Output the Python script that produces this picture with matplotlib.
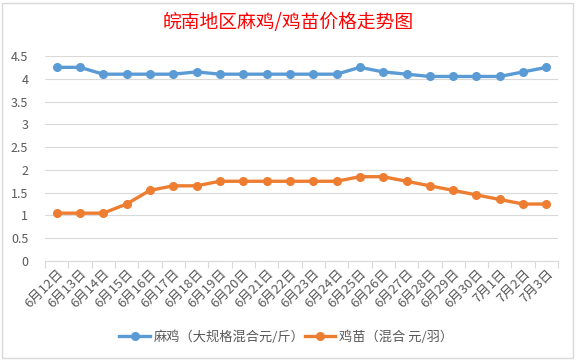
# -*- coding: utf-8 -*-
import matplotlib
matplotlib.use('Agg')
import matplotlib.pyplot as plt
from matplotlib.patches import Rectangle

plt.rcParams['font.family'] = ['Noto Sans CJK SC', 'DejaVu Sans']

# 数据
dates = ['6月12日', '6月13日', '6月14日', '6月15日', '6月16日', '6月17日', '6月18日',
         '6月19日', '6月20日', '6月21日', '6月22日', '6月23日', '6月24日', '6月25日',
         '6月26日', '6月27日', '6月28日', '6月29日', '6月30日', '7月1日', '7月2日', '7月3日']
maji = [4.25, 4.25, 4.1, 4.1, 4.1, 4.1, 4.15, 4.1, 4.1, 4.1, 4.1, 4.1, 4.1, 4.25,
        4.15, 4.1, 4.05, 4.05, 4.05, 4.05, 4.15, 4.25]
jimiao = [1.05, 1.05, 1.05, 1.25, 1.55, 1.65, 1.65, 1.75, 1.75, 1.75, 1.75, 1.75, 1.75, 1.85,
          1.85, 1.75, 1.65, 1.55, 1.45, 1.35, 1.25, 1.25]
label_maji = '麻鸡（大规格混合元/斤）'
label_jimiao = '鸡苗（混合 元/羽）'
title = '皖南地区麻鸡/鸡苗价格走势图'

fig = plt.figure(figsize=(5.76, 3.61), dpi=100)
ax = fig.add_axes([0.078, 0.277, 0.891, 0.568])

x = range(len(dates))
ax.plot(x, maji, color='#5B9BD5', lw=2.4, marker='o', ms=5.5, label=label_maji)
ax.plot(x, jimiao, color='#ED7D31', lw=2.4, marker='o', ms=5.5, label=label_jimiao)

ax.set_ylim(0, 4.5)
ax.set_xlim(-0.5, len(dates) - 0.5)
ax.set_yticks([i * 0.5 for i in range(10)])
ax.set_yticklabels(['0', '0.5', '1', '1.5', '2', '2.5', '3', '3.5', '4', '4.5'])
ax.tick_params(axis='y', length=0, pad=12, labelsize=9, labelcolor='#595959')
ax.grid(axis='y', color='#D9D9D9', lw=0.8)
ax.set_axisbelow(True)

# 分类轴：刻度在类别之间
ax.set_xticks([i - 0.5 for i in range(len(dates) + 1)])
ax.set_xticklabels([])
ax.set_xticks(list(x), minor=True)
ax.set_xticklabels(dates, minor=True, rotation=45, ha='right', va='top',
                   rotation_mode='anchor', fontsize=9.5, color='#595959')
ax.tick_params(axis='x', which='major', length=5, color='#D9D9D9')
ax.tick_params(axis='x', which='minor', length=0, pad=4)

for s in ['top', 'right', 'left']:
    ax.spines[s].set_visible(False)
ax.spines['bottom'].set_color('#D9D9D9')

fig.text(0.5, 0.937, title, ha='center', va='center', color='#FF0000', fontsize=13.5)

fig.legend(loc='center', bbox_to_anchor=(0.497, 0.067), ncol=2, frameon=False,
           fontsize=9.5, handlelength=2.3, columnspacing=0.0, handletextpad=0.3,
           labelcolor='#595959')

fig.patches.append(Rectangle((0.004, 0.008), 0.99, 0.985, transform=fig.transFigure,
                             fill=False, edgecolor='#D9D9D9', lw=1))

fig.savefig('out.png', dpi=100)
